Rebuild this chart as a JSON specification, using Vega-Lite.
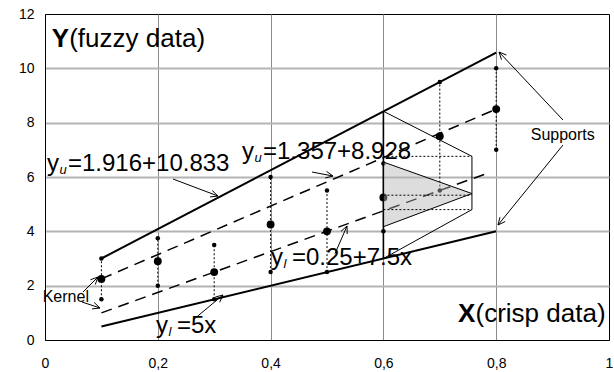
{
  "$schema": "https://vega.github.io/schema/vega-lite/v6.json",
  "width": 564,
  "height": 326,
  "autosize": {"type": "none"},
  "padding": {"left": 45, "top": 14, "right": 5, "bottom": 32},
  "background": "white",
  "config": {
    "view": {"stroke": "black", "strokeWidth": 1},
    "font": "Liberation Sans"
  },
  "encoding": {
    "x": {
      "field": "x", "type": "quantitative",
      "scale": {"domain": [0, 1], "nice": false, "zero": false},
      "axis": {
        "title": null, "values": [0, 0.2, 0.4, 0.6, 0.8, 1], "grid": true,
        "gridColor": "#8c8c8c", "gridWidth": 1,
        "gridOpacity": {"condition": {"test": "datum.value == 0 || datum.value == 1", "value": 0}, "value": 1},
        "ticks": false, "domainColor": "black", "labelFont": "Liberation Sans",
        "labelFontSize": 14, "labelColor": "black", "labelPadding": 16, "labelFlush": false,
        "labelExpr": "datum.value == 0 ? '0' : datum.value == 1 ? '1' : replace(format(datum.value, '.1f'), '.', ',')"
      }
    },
    "y": {
      "field": "y", "type": "quantitative",
      "scale": {"domain": [0, 12], "nice": false, "zero": false},
      "axis": {
        "title": null, "values": [0, 2, 4, 6, 8, 10, 12], "grid": true,
        "gridColor": "#b4b4b4", "gridWidth": 2,
        "gridOpacity": {"condition": {"test": "datum.value == 0 || datum.value == 12", "value": 0}, "value": 1},
        "ticks": false, "domainColor": "black", "labelFont": "Liberation Sans",
        "labelFontSize": 14, "labelColor": "black", "labelPadding": 11, "labelFlush": false
      }
    }
  },
  "layer": [
    {
      "data": {"values": [
        {"s": "u", "x": 0.1, "y": 3.0}, {"s": "u", "x": 0.8, "y": 10.58},
        {"s": "l", "x": 0.1, "y": 0.5}, {"s": "l", "x": 0.8, "y": 4.0}
      ]},
      "mark": {"type": "line", "color": "black", "strokeWidth": 2},
      "encoding": {"detail": {"field": "s"}}
    },
    {
      "data": {"values": [
        {"s": "u", "x": 0.1, "y": 2.25}, {"s": "u", "x": 0.8, "y": 8.5},
        {"s": "l", "x": 0.1, "y": 1.0}, {"s": "l", "x": 0.79, "y": 6.18}
      ]},
      "mark": {"type": "line", "color": "black", "strokeWidth": 1.5, "strokeDash": [11, 7]},
      "encoding": {"detail": {"field": "s"}}
    },
    {
      "data": {"values": [
        {"x": 0.1, "y": 1.5, "y2": 3.0}, {"x": 0.2, "y": 2.0, "y2": 3.75},
        {"x": 0.3, "y": 1.5, "y2": 3.5}, {"x": 0.4, "y": 2.5, "y2": 6.0},
        {"x": 0.5, "y": 2.5, "y2": 5.5}, {"x": 0.6, "y": 4.0, "y2": 6.5},
        {"x": 0.7, "y": 5.5, "y2": 9.5}, {"x": 0.8, "y": 7.0, "y2": 10.0}
      ]},
      "mark": {"type": "rule", "color": "black", "strokeWidth": 1, "strokeDash": [2, 2]},
      "encoding": {"y2": {"field": "y2"}}
    },
    {
      "data": {"values": [
        {"x": 0.1, "y": 1.5, "k": "e"}, {"x": 0.1, "y": 2.25, "k": "c"}, {"x": 0.1, "y": 3.0, "k": "e"},
        {"x": 0.2, "y": 2.0, "k": "e"}, {"x": 0.2, "y": 2.9, "k": "c"}, {"x": 0.2, "y": 3.75, "k": "e"},
        {"x": 0.3, "y": 1.5, "k": "e"}, {"x": 0.3, "y": 2.5, "k": "c"}, {"x": 0.3, "y": 3.5, "k": "e"},
        {"x": 0.4, "y": 2.5, "k": "e"}, {"x": 0.4, "y": 4.25, "k": "c"}, {"x": 0.4, "y": 6.0, "k": "e"},
        {"x": 0.5, "y": 2.5, "k": "e"}, {"x": 0.5, "y": 4.0, "k": "c"}, {"x": 0.5, "y": 5.5, "k": "e"},
        {"x": 0.6, "y": 4.0, "k": "e"}, {"x": 0.6, "y": 5.25, "k": "c"}, {"x": 0.6, "y": 6.5, "k": "e"},
        {"x": 0.7, "y": 5.5, "k": "e"}, {"x": 0.7, "y": 7.5, "k": "c"}, {"x": 0.7, "y": 9.5, "k": "e"},
        {"x": 0.8, "y": 7.0, "k": "e"}, {"x": 0.8, "y": 8.5, "k": "c"}, {"x": 0.8, "y": 10.0, "k": "e"}
      ]},
      "layer": [
        {"transform": [{"filter": "datum.k == 'e'"}], "mark": {"type": "circle", "color": "black", "opacity": 1, "size": 20}},
        {"transform": [{"filter": "datum.k == 'c'"}], "mark": {"type": "circle", "color": "black", "opacity": 1, "size": 62}}
      ]
    },
    {
      "data": {"values": [
        {"o": 1, "x": 0.6, "y": 8.42}, {"o": 2, "x": 0.757, "y": 6.76},
        {"o": 3, "x": 0.757, "y": 4.8}, {"o": 4, "x": 0.6, "y": 3.0}
      ]},
      "mark": {"type": "line", "color": "black", "strokeWidth": 1},
      "encoding": {"order": {"field": "o"}}
    },
    {
      "data": {"values": [{"x": 0.6, "y": 3.0, "y2": 8.42}]},
      "mark": {"type": "rule", "color": "black", "strokeWidth": 1.6},
      "encoding": {"y2": {"field": "y2"}}
    },
    {
      "data": {"values": [
        {"x": 0.6, "y": 4.17, "y2": 6.55}, {"x": 0.757, "y": 5.39, "y2": 5.39}
      ]},
      "mark": {"type": "area", "fill": "#b4b4b4", "fillOpacity": 0.45, "stroke": "black", "strokeWidth": 1},
      "encoding": {"y2": {"field": "y2"}}
    },
    {
      "data": {"values": [
        {"x": 0.6, "x2": 0.757, "y": 6.76, "y2": 6.76},
        {"x": 0.6, "x2": 0.757, "y": 5.33, "y2": 5.33},
        {"x": 0.6, "x2": 0.757, "y": 4.8, "y2": 4.8}
      ]},
      "mark": {"type": "rule", "color": "black", "strokeWidth": 1, "strokeDash": [2, 2]},
      "encoding": {"x2": {"field": "x2"}, "y2": {"field": "y2"}}
    },
    {
      "data": {"values": [
        {"x": 0.2270, "y": 5.926, "x2": 0.3067, "y2": 5.30},
        {"x": 0.3067, "y": 5.30, "x2": 0.2964, "y2": 5.502},
        {"x": 0.3067, "y": 5.30, "x2": 0.2926, "y2": 5.266},
        {"x": 0.4734, "y": 6.183, "x2": 0.5106, "y2": 6.036},
        {"x": 0.5106, "y": 6.036, "x2": 0.4991, "y2": 6.208},
        {"x": 0.5106, "y": 6.036, "x2": 0.4969, "y2": 5.964},
        {"x": 0.5142, "y": 3.180, "x2": 0.5355, "y2": 4.196},
        {"x": 0.5355, "y": 4.196, "x2": 0.5248, "y2": 4.001},
        {"x": 0.5355, "y": 4.196, "x2": 0.5358, "y2": 3.901},
        {"x": 0.2624, "y": 0.736, "x2": 0.3156, "y2": 1.656},
        {"x": 0.3156, "y": 1.656, "x2": 0.3019, "y2": 1.581},
        {"x": 0.3156, "y": 1.656, "x2": 0.3096, "y2": 1.390},
        {"x": 0.0674, "y": 1.767, "x2": 0.0940, "y2": 2.319},
        {"x": 0.0940, "y": 2.319, "x2": 0.0806, "y2": 2.218},
        {"x": 0.0940, "y": 2.319, "x2": 0.0891, "y2": 2.042},
        {"x": 0.0656, "y": 1.399, "x2": 0.0975, "y2": 1.178},
        {"x": 0.0975, "y": 1.178, "x2": 0.0872, "y2": 1.380},
        {"x": 0.0975, "y": 1.178, "x2": 0.0834, "y2": 1.144},
        {"x": 0.9184, "y": 8.097, "x2": 0.8050, "y2": 10.600},
        {"x": 0.8050, "y": 10.600, "x2": 0.8094, "y2": 10.320},
        {"x": 0.8050, "y": 10.600, "x2": 0.8181, "y2": 10.491},
        {"x": 0.9184, "y": 7.177, "x2": 0.8032, "y2": 4.233},
        {"x": 0.8032, "y": 4.233, "x2": 0.8160, "y2": 4.361},
        {"x": 0.8032, "y": 4.233, "x2": 0.8067, "y2": 4.518}
      ]},
      "mark": {"type": "rule", "color": "black", "strokeWidth": 1},
      "encoding": {"x2": {"field": "x2"}, "y2": {"field": "y2"}}
    },
    {
      "data": {"values": [{"x": 0.0119, "y": 10.795, "t": "Y"}, {"x": 0.7323, "y": 0.662, "t": "X"}]},
      "mark": {"type": "text", "align": "left", "baseline": "alphabetic", "fontSize": 26, "fontWeight": "bold", "color": "black"},
      "encoding": {"text": {"field": "t"}}
    },
    {
      "data": {"values": [{"x": 0.0119, "y": 10.795, "t": "(fuzzy data)"}, {"x": 0.7323, "y": 0.662, "t": "(crisp data)"}]},
      "mark": {"type": "text", "align": "left", "baseline": "alphabetic", "fontSize": 26, "dx": 17.5, "color": "black"},
      "encoding": {"text": {"field": "t"}}
    },
    {
      "data": {"values": [
        {"x": 0.0035, "y": 6.22, "t": "y"}, {"x": 0.3493, "y": 6.651, "t": "y"},
        {"x": 0.4007, "y": 2.76, "t": "y"}, {"x": 0.1968, "y": 0.258, "t": "y"}
      ]},
      "mark": {"type": "text", "align": "left", "baseline": "alphabetic", "fontSize": 24, "color": "black"},
      "encoding": {"text": {"field": "t"}}
    },
    {
      "data": {"values": [
        {"x": 0.0035, "y": 6.22, "t": "u"}, {"x": 0.3493, "y": 6.651, "t": "u"},
        {"x": 0.4007, "y": 2.76, "t": "l"}, {"x": 0.1968, "y": 0.258, "t": "l"}
      ]},
      "mark": {"type": "text", "align": "left", "baseline": "alphabetic", "fontSize": 13, "fontStyle": "italic", "dx": 12.5, "dy": 3, "color": "black"},
      "encoding": {"text": {"field": "t"}}
    },
    {
      "data": {"values": [
        {"x": 0.0035, "y": 6.22, "t": "=1.916+10.833"}, {"x": 0.3493, "y": 6.651, "t": "=1.357+8.928"},
        {"x": 0.4007, "y": 2.76, "t": "=0.25+7.5x"}, {"x": 0.1968, "y": 0.258, "t": "=5x"}
      ]},
      "mark": {"type": "text", "align": "left", "baseline": "alphabetic", "fontSize": 24, "dx": 21, "color": "black"},
      "encoding": {"text": {"field": "t"}}
    },
    {
      "data": {"values": [{"x": -0.0041, "y": 1.41, "t": "Kernel"}, {"x": 0.8612, "y": 7.361, "t": "Supports"}]},
      "mark": {"type": "text", "align": "left", "baseline": "alphabetic", "fontSize": 16, "color": "black"},
      "encoding": {"text": {"field": "t"}}
    }
  ]
}
